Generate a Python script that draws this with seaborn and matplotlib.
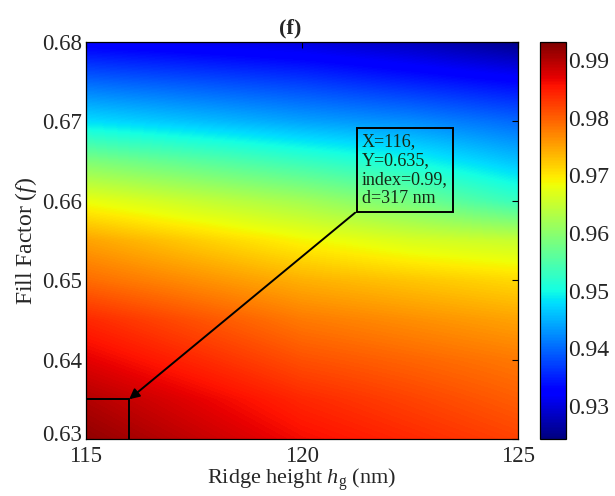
import numpy as np
import pandas as pd
import matplotlib
matplotlib.use("Agg")
import matplotlib.pyplot as plt
import matplotlib.transforms as mtransforms
import seaborn as sns

# ---- data ----
ridge_height = [115.0, 117.5, 120.0, 122.5, 125.0]          # nm (x)
fill_factor = [0.630, 0.635, 0.640, 0.645, 0.650, 0.655,
               0.660, 0.665, 0.670, 0.675, 0.680]            # (y)
idx_h115 = [0.992, 0.990, 0.987, 0.984, 0.979, 0.975, 0.968, 0.959, 0.948, 0.940, 0.932]
idx_h117 = [0.989, 0.987, 0.984, 0.981, 0.9765, 0.972, 0.965, 0.956, 0.946, 0.9385, 0.931]
idx_h120 = [0.986, 0.984, 0.981, 0.978, 0.974, 0.969, 0.962, 0.953, 0.944, 0.937, 0.930]
idx_h122 = [0.984, 0.982, 0.9795, 0.9765, 0.9725, 0.9665, 0.958, 0.950, 0.9425, 0.935, 0.928]
idx_h125 = [0.982, 0.980, 0.978, 0.975, 0.971, 0.965, 0.953, 0.946, 0.940, 0.9330, 0.925]
cbar_ticks = [0.93, 0.94, 0.95, 0.96, 0.97, 0.98, 0.99]
x_ticks = [115, 120, 125]
y_ticks = [0.63, 0.64, 0.65, 0.66, 0.67, 0.68]
cmin, cmax = 0.9243, 0.9931
opt_h, opt_f = 116, 0.635
note_lines = ["X=116,", "Y=0.635,", "index=0.99,", "d=317 nm"]
note_corner = (121.23, 0.6585)   # lower-left corner of the note box

df = pd.DataFrame({h: v for h, v in zip(ridge_height,
                   [idx_h115, idx_h117, idx_h120, idx_h122, idx_h125])},
                  index=fill_factor)

sns.set_theme(style="white")
plt.rcParams['font.family'] = ['Liberation Serif', 'DejaVu Serif']
plt.rcParams['mathtext.fontset'] = 'custom'
plt.rcParams['mathtext.rm'] = 'Liberation Serif'
plt.rcParams['mathtext.it'] = 'Liberation Serif:italic'
plt.rcParams['xtick.direction'] = 'in'
plt.rcParams['ytick.direction'] = 'in'

fig = plt.figure(figsize=(6.15, 4.96), dpi=100)
ax = fig.add_axes([0.1398, 0.1150, 0.7025, 0.8003])
cax = fig.add_axes([0.878, 0.1150, 0.042, 0.8003])

hx = df.columns.values.astype(float)
fy = df.index.values.astype(float)
dx = hx[1] - hx[0]
dy = fy[1] - fy[0]
im = ax.imshow(df.values, cmap='jet', vmin=cmin, vmax=cmax, origin='lower',
               aspect='auto', interpolation='bilinear', interpolation_stage='data',
               extent=[hx[0] - dx / 2, hx[-1] + dx / 2, fy[0] - dy / 2, fy[-1] + dy / 2])
ax.set_xlim(115, 125)
ax.set_ylim(0.63, 0.68)
ax.set_xticks(x_ticks)
ax.set_yticks(y_ticks)
ax.set_yticklabels([f"{v:.2f}" for v in y_ticks])
ax.tick_params(axis='both', labelsize=16.5, length=4, width=0.8, color='black',
               top=True, right=True)
ax.tick_params(axis='x', pad=5)
ax.tick_params(axis='y', pad=3)
# lift the lowest y label a little so it clears "115", as in the reference
lbl = ax.get_yticklabels()[0]
lbl.set_transform(lbl.get_transform() +
                  mtransforms.ScaledTranslation(0, 4 / 72, fig.dpi_scale_trans))
for s in ax.spines.values():
    s.set_color('black'); s.set_linewidth(0.9)
ax.set_xlabel(r"Ridge height $h_{\rm g}$ (nm)", fontsize=16, labelpad=0)
ax.set_ylabel(r"Fill Factor ($f$)", fontsize=17, labelpad=2)
ax.set_title("(f)", fontsize=16, fontweight='bold', pad=6, x=0.472)

# marker lines for optimum
ax.plot([115, opt_h], [opt_f, opt_f], color='black', lw=1.4)
ax.plot([opt_h, opt_h], [0.63, opt_f], color='black', lw=1.4)
ax.annotate("", xy=(opt_h, opt_f), xytext=note_corner,
            arrowprops=dict(arrowstyle='-|>', color='black', lw=1.4, mutation_scale=15,
                            shrinkA=0, shrinkB=0))
ax.annotate("\n".join(note_lines), xy=note_corner, xytext=(5, 4),
            textcoords='offset points', fontsize=13, color='#142814',
            ha='left', va='bottom', linespacing=1.15,
            bbox=dict(boxstyle='square,pad=0.28', fc='none', ec='black', lw=1.4))

cb = fig.colorbar(im, cax=cax, ticks=cbar_ticks)
cb.ax.tick_params(labelsize=17, direction='in', length=4, left=True, right=True, pad=2)
cb.ax.set_yticklabels([f"{v:.2f}" for v in cbar_ticks])
cb.outline.set_color('black'); cb.outline.set_linewidth(0.9)

fig.savefig("out.png", dpi=100)
